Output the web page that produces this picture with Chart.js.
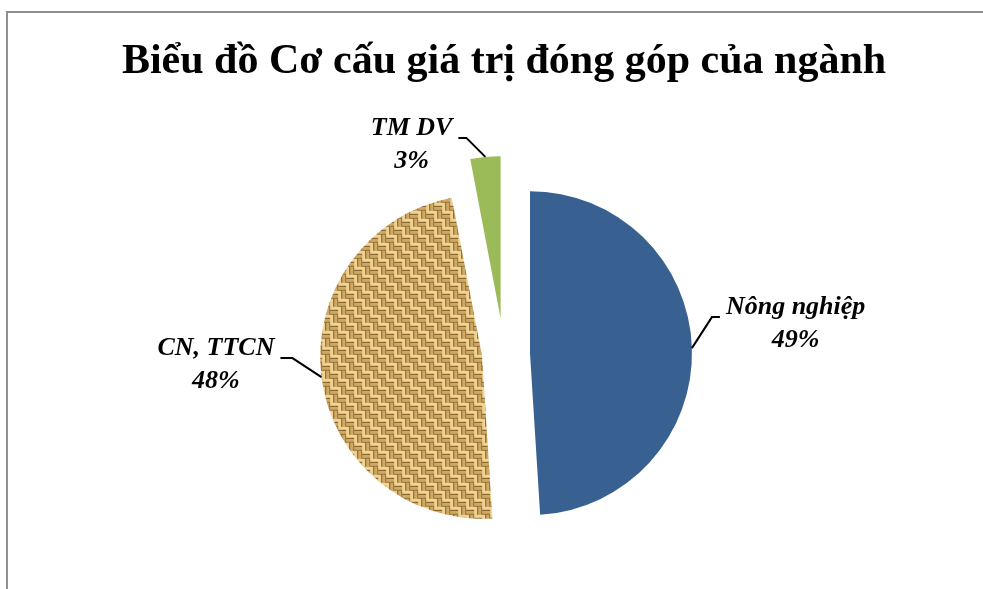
<!DOCTYPE html>
<html>
<head>
<meta charset="utf-8">
<script src="https://cdn.jsdelivr.net/npm/chart.js@4"></script>
<style>
  html, body { margin: 0; padding: 0; background: #fff; }
  #wrap { position: absolute; left: 0; top: 0; width: 983px; height: 589px; }
</style>
</head>
<body>
<div id="wrap"><canvas id="coCauChart" width="983" height="589"></canvas></div>
<script>
// du lieu bieu do
const categories = ['Nông nghiệp', 'CN, TTCN', 'TM DV'];
const values = [49, 48, 3];
const chartTitle = 'Biểu đồ Cơ cấu giá trị đóng góp của ngành';

// kieu dang
const explode = [26, 22, 36];
const leaders = [
  { dx: 20, dy: -31, tail: 8 },
  { dx: -29, dy: -19, tail: -12 },
  { dx: -19, dy: -19, tail: -8 }
];

// hoa van bao tai cho lat cat CN, TTCN
function makeBurlap() {
  const c = document.createElement('canvas');
  c.width = 16; c.height = 16;
  const g = c.getContext('2d');
  const strands = [
    ['#efd390', 3], ['#7f5b2c', 1], ['#cfa862', 3], ['#98733d', 1]
  ];
  for (let cy = 0; cy < 2; cy++) {
    for (let cx = 0; cx < 2; cx++) {
      const x0 = cx * 8, y0 = cy * 8;
      const horiz = (cx + cy) % 2 === 0;
      let p = 0;
      strands.forEach(function (s) {
        g.fillStyle = s[0];
        if (horiz) g.fillRect(x0, y0 + p, 8, s[1]);
        else g.fillRect(x0 + p, y0, s[1], 8);
        p += s[1];
      });
    }
  }
  return g.createPattern(c, 'repeat');
}

const explodePlugin = {
  id: 'explodePie',
  beforeDatasetDraw(chart, args) {
    const ctx = chart.ctx;
    args.meta.data.forEach(function (arc, i) {
      const mid = (arc.startAngle + arc.endAngle) / 2;
      ctx.save();
      ctx.translate(Math.cos(mid) * explode[i], Math.sin(mid) * explode[i]);
      arc.draw(ctx, chart.chartArea);
      ctx.restore();
    });
    return false;
  }
};

const labelPlugin = {
  id: 'pieLabels',
  afterDatasetsDraw(chart) {
    const ctx = chart.ctx;
    const meta = chart.getDatasetMeta(0);
    const total = values.reduce((a, b) => a + b, 0);
    ctx.save();
    ctx.font = 'italic bold 26px "Liberation Serif", "Times New Roman", serif';
    ctx.textBaseline = 'middle';
    ctx.textAlign = 'center';
    meta.data.forEach(function (arc, i) {
      const mid = (arc.startAngle + arc.endAngle) / 2;
      const cx = arc.x + Math.cos(mid) * explode[i];
      const cy = arc.y + Math.sin(mid) * explode[i];
      const ax = cx + Math.cos(mid) * arc.outerRadius;
      const ay = cy + Math.sin(mid) * arc.outerRadius;
      const ex = ax + leaders[i].dx;
      const ey = ay + leaders[i].dy;
      const tx = ex + leaders[i].tail;

      ctx.strokeStyle = '#000';
      ctx.lineWidth = 2;
      ctx.beginPath();
      ctx.moveTo(ax, ay);
      ctx.lineTo(ex, ey);
      ctx.lineTo(tx, ey);
      ctx.stroke();

      const lines = [categories[i], Math.round(values[i] / total * 100) + '%'];
      const w = Math.max(...lines.map(t => ctx.measureText(t).width));
      const centerX = leaders[i].tail > 0 ? tx + 6 + w / 2 : tx - 6 - w / 2;
      ctx.fillStyle = '#000';
      ctx.fillText(lines[0], centerX, ey - 10);
      ctx.fillText(lines[1], centerX, ey + 23);
    });
    ctx.restore();
  }
};

const framePlugin = {
  id: 'frame',
  beforeDraw(chart) {
    const ctx = chart.ctx;
    ctx.save();
    ctx.fillStyle = '#fff';
    ctx.fillRect(0, 0, chart.width, chart.height);
    ctx.strokeStyle = '#8f8f8f';
    ctx.lineWidth = 2;
    ctx.beginPath();
    ctx.moveTo(7, chart.height);
    ctx.lineTo(7, 12);
    ctx.lineTo(chart.width, 12);
    ctx.stroke();
    ctx.restore();
  }
};

const ctx = document.getElementById('coCauChart').getContext('2d');
const coCauChart = new Chart(ctx, {
  type: 'pie',
  data: {
    labels: categories,
    datasets: [{
      data: values,
      backgroundColor: ['#386192', makeBurlap(), '#9bbb59'],
      borderWidth: 0
    }]
  },
  options: {
    responsive: false,
    animation: false,
    events: [],
    radius: 162,
    layout: { padding: { left: 36, right: 11, top: 0, bottom: 0 } },
    plugins: {
      legend: { display: false },
      tooltip: { enabled: false },
      title: {
        display: true,
        text: chartTitle,
        color: '#000',
        font: { family: '"Liberation Serif", "Times New Roman", serif', size: 42, weight: 'bold', lineHeight: 1.2 },
        padding: { top: 37, bottom: 31.6 }
      }
    }
  },
  plugins: [framePlugin, explodePlugin, labelPlugin]
});
</script>
</body>
</html>
